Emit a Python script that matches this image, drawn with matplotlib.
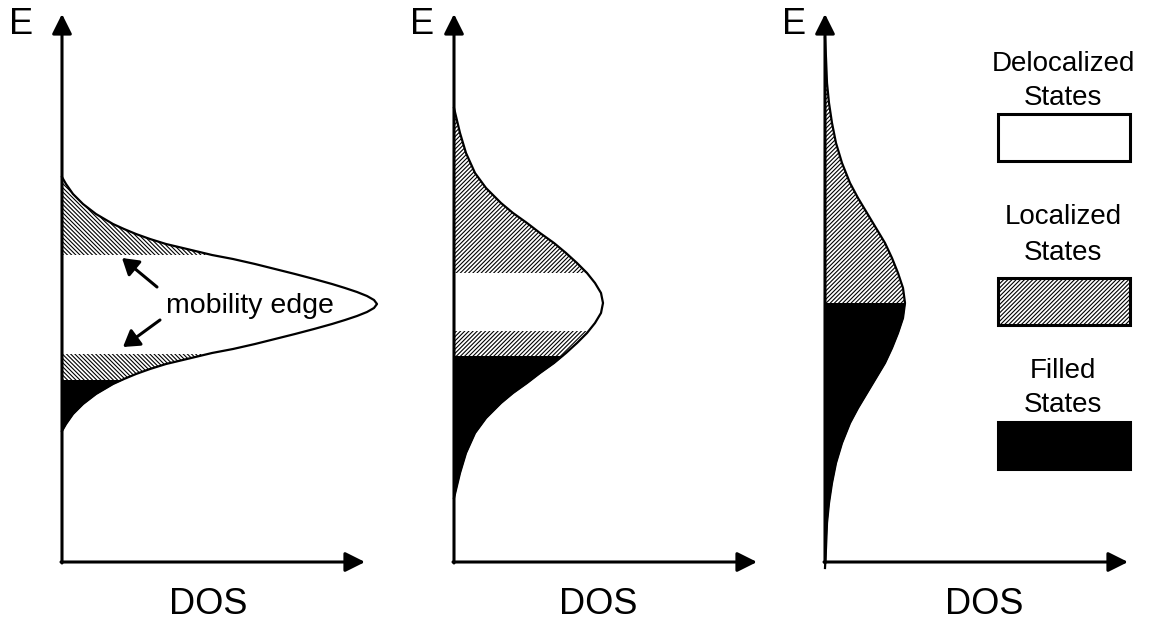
import matplotlib
matplotlib.use("Agg")
from matplotlib import pyplot as plt
from matplotlib.patches import Rectangle

plt.rcParams["font.family"] = ["Liberation Sans", "DejaVu Sans"]
plt.rcParams["hatch.linewidth"] = 0.8

# Curva DOS de cada painel: distancia ao centro (E) e valor da DOS
centro_1 = 258
offsets_1 = [0, 4, 8, 12, 16, 20, 25, 30, 35, 40, 45, 49, 55, 60, 65, 70, 75, 80, 90, 100, 110, 120, 127]
dos_1 = [315, 312, 305, 295, 283, 270, 252, 233, 213, 193, 171, 150, 125, 104, 88, 74, 62, 51, 34, 21, 11, 4, 0]

centro_2 = 259
offsets_2 = [0, 10, 20, 30, 40, 50, 60, 70, 80, 90, 100, 115, 130, 150, 170, 195]
dos_2 = [149, 147, 141, 133, 123, 112, 100, 86, 73, 59, 47, 32, 21, 12, 6, 0]

centro_3 = 259
offsets_3 = [0, 15, 30, 45, 60, 75, 90, 105, 120, 140, 160, 180, 200, 220, 245, 265]
dos_3 = [80, 78, 73, 67, 60, 51, 42, 33, 25, 17, 11, 7, 4, 2, 1, 0]

# Faixas de energia (relativas ao centro): localizados, preenchidos
faixas_1 = [(49, 140, "loc"), (-76, -50, "loc"), (-140, -76, "fill")]
faixas_2 = [(30, 210, "loc"), (-53, -28, "loc"), (-270, -53, "fill")]
faixas_3 = [(0, 300, "loc"), (-270, 0, "fill")]

eixo_x = [62, 454, 825]
dos_label_x = [208, 598, 984]
e_label_x = [21, 422, 794]

legenda = [("Delocalized", "States", "deloc"), ("Localized", "States", "loc"),
           ("Filled", "States", "fill")]

W, H = 1150, 625
fig = plt.figure(figsize=(11.5, 6.25), dpi=100)


def curva(centro, offsets, dos):
    E = [centro + o for o in offsets[::-1]] + [centro - o for o in offsets[1:]]
    D = dos[::-1] + dos[1:]
    return E, D


paineis = [
    (centro_1, offsets_1, dos_1, faixas_1, "\\" * 8),
    (centro_2, offsets_2, dos_2, faixas_2, "/" * 8),
    (centro_3, offsets_3, dos_3, faixas_3, "/" * 8),
]

axes = []
for i, (centro, offsets, dos, faixas, hachura) in enumerate(paineis):
    x0 = eixo_x[i]
    ax = fig.add_axes([(x0 - 10) / W, 53 / H, 340 / W, 562 / H])
    ax.set_xlim(-10, 330)
    ax.set_ylim(-10, 552)
    ax.axis("off")
    axes.append(ax)

    E, D = curva(centro, offsets, dos)
    for lo, hi, tipo in faixas:
        if tipo == "loc":
            area = ax.fill_betweenx(E, 0, D, facecolor="white", edgecolor="black",
                                    hatch=hachura, lw=0)
        else:
            area = ax.fill_betweenx(E, 0, D, facecolor="black", edgecolor="black", lw=0)
        base = max(centro + lo, 0)
        rect = Rectangle((0, base), 400, centro + hi - base, transform=ax.transData)
        area.set_clip_path(rect)
    ax.plot(D, E, color="black", lw=1.6)

    # Eixos com setas
    estilo = dict(arrowstyle="-|>,head_length=0.4,head_width=0.2", lw=2.2,
                  color="black", mutation_scale=30, shrinkA=0, shrinkB=0)
    ax.annotate("", xy=(0, 548), xytext=(0, -1), arrowprops=estilo)
    ax.annotate("", xy=(303, 0), xytext=(-1, 0), arrowprops=estilo)

    fig.text(e_label_x[i] / W, 1 - 25 / H, "E", fontsize=26, ha="center", va="center")
    fig.text(dos_label_x[i] / W, 1 - 605 / H, "DOS", fontsize=26, ha="center", va="center")

# mobility edge
ax1 = axes[0]
seta = dict(arrowstyle="-|>,head_length=0.4,head_width=0.25", lw=2.2, color="black",
            mutation_scale=24, shrinkA=0, shrinkB=0)
ax1.annotate("", xy=(60, 304), xytext=(95, 275), arrowprops=seta)
ax1.annotate("", xy=(61, 215), xytext=(98, 242), arrowprops=seta)
ax1.text(188, 256, "mobility edge", fontsize=20.5, ha="center", va="center")

# Legenda
lax = fig.add_axes([0, 0, 1, 1])
lax.set_xlim(0, W)
lax.set_ylim(H, 0)
lax.axis("off")
topos = [114, 278, 422]
bases_texto = [(71, 105), (224, 260), (378, 412)]
for (l1, l2, tipo), topo, (b1, b2) in zip(legenda, topos, bases_texto):
    if tipo == "deloc":
        r = Rectangle((998, topo), 132, 47, facecolor="white", edgecolor="black", lw=2.2)
    elif tipo == "loc":
        r = Rectangle((998, topo), 132, 47, facecolor="white", edgecolor="black",
                      hatch="/" * 8, lw=2.2)
    else:
        r = Rectangle((998, topo), 132, 47, facecolor="black", edgecolor="black", lw=2.2)
    lax.add_patch(r)
    lax.text(1063, b1, l1, fontsize=20, ha="center", va="baseline")
    lax.text(1063, b2, l2, fontsize=20, ha="center", va="baseline")

fig.savefig("out.png", dpi=100)
